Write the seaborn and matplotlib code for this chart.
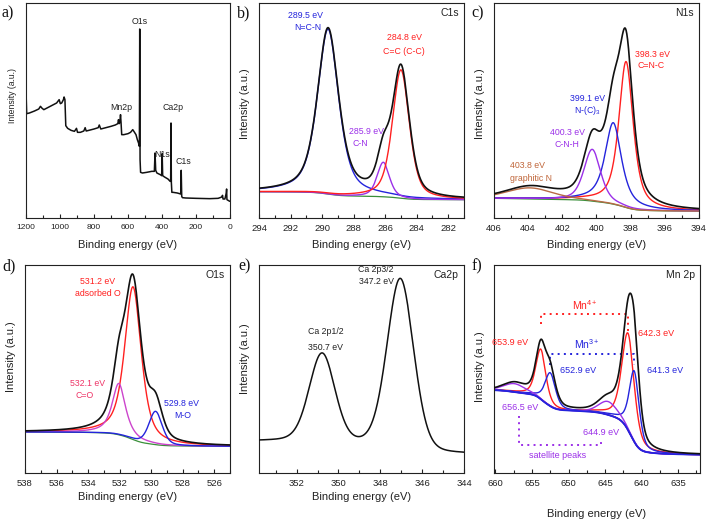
import numpy as np
import pandas as pd
import matplotlib
matplotlib.use("Agg")
import matplotlib.pyplot as plt
import seaborn as sns
from matplotlib.ticker import MultipleLocator

sns.set_theme(style="white")
plt.rcParams['font.family'] = ['Liberation Sans', 'DejaVu Sans']
plt.rcParams['mathtext.fontset'] = 'custom'
plt.rcParams['mathtext.rm'] = 'Liberation Sans'
plt.rcParams['mathtext.it'] = 'Liberation Sans:italic'

# ---------------- data ----------------
# (a) survey spectrum
survey_be = [1199, 1196, 1180, 1150, 1125, 1115, 1105, 1095, 1080, 1050, 1020, 1005, 998, 990, 980, 976,
             971, 966, 955, 935, 915, 903, 897, 880, 860, 852, 846, 830, 800, 775, 769, 760, 730, 700,
             675, 660, 656, 652, 648, 644, 641, 637, 625, 600, 585, 572, 563, 553, 545, 538, 533, 531,
             529, 526, 515, 490, 460, 445, 441, 437, 430, 410, 402, 399, 396, 385, 365, 352, 349, 347,
             345, 342, 335, 310, 290, 287, 284, 280, 260, 200, 120, 70, 48, 44, 41, 30, 22, 20, 18, 8, 1]
survey_int = [365, 313, 315, 321, 327, 335, 329, 325, 329, 337, 345, 355, 343, 345, 355, 363,
              355, 277, 269, 263, 260, 269, 257, 257, 261, 271, 261, 263, 267, 271, 279, 267, 271, 275,
              279, 283, 295, 283, 287, 310, 287, 250, 250, 253, 257, 265, 258, 250, 235, 225, 215, 567,
              175, 137, 135, 137, 140, 140, 195, 143, 135, 130, 127, 193, 127, 123, 117, 110, 110, 285,
              107, 77, 77, 75, 72, 143, 65, 61, 60, 59, 58, 59, 63, 68, 57, 57, 75, 87, 55, 52, 50]
survey_peaks = ["O1s", "Mn2p", "Ca2p", "N1s", "C1s"]
survey_peak_be = [529, 637, 333, 398, 275]
survey_peak_int = [590, 330, 330, 190, 170]

# (b) C1s fit components
c1s_center = [289.62, 286.12, 285.0]
c1s_height = [478, 100, 372]
c1s_fwhm = [1.6, 0.92, 1.27]
c1s_eta = [0.6, 0.5, 0.5]
c1s_bg = [53, 76]          # low-BE side, high-BE side

# (c) N1s fit components
n1s_center = [398.27, 399.02, 400.25, 403.9]
n1s_height = [423, 236, 150, 32]
n1s_fwhm = [1.0, 1.15, 1.15, 3.2]
n1s_eta = [0.7, 0.8, 0.5, 0.3]
n1s_bg = [20, 57]

# (d) O1s fit components
o1s_center = [531.15, 532.05, 529.72]
o1s_height = [458, 154, 100]
o1s_fwhm = [1.25, 1.0, 1.0]
o1s_eta = [0.65, 0.8, 0.4]
o1s_bg = [80, 123]

# (e) Ca2p
ca_center = [350.78, 347.04]
ca_height = [268, 513]
ca_fwhm = [1.45, 1.5]
ca_eta = [0.2, 0.2]
ca_bg = [56, 95]

# (f) Mn2p: Mn4+ (2p1/2, 2p3/2), Mn3+ (2p1/2, 2p3/2), satellites
mn_center = [653.8, 641.85, 652.5, 641.0, 657.4, 644.6]
mn_height = [150, 290, 100, 212, 25, 40]
mn_fwhm = [1.6, 2.0, 1.7, 1.6, 3.5, 3.0]
mn_eta = [0.5, 0.5, 0.5, 0.5, 0.3, 0.3]
mn_bg = [55, 248]

BLUE = "#2424dc"
RED = "#ff2020"
PURPLE = "#9b30e8"
MAGENTA = "#cc44cc"
BROWN = "#b86a45"
GREEN = "#3a8f3a"


def pvoigt(x, c, h, w, eta):
    d = (x - c) / w
    return h * (eta / (1 + 4 * d * d) + (1 - eta) * np.exp(-4 * np.log(2) * d * d))


def fit_curves(x, centers, heights, fwhms, etas, bg):
    comps = [pvoigt(x, c, h, w, e) for c, h, w, e in zip(centers, heights, fwhms, etas)]
    total = np.sum(comps, axis=0)
    cum = np.cumsum(total)
    cum = cum / cum[-1]
    base = bg[0] + (bg[1] - bg[0]) * cum
    return base, comps, total


def line(ax, x, y, color, lw=1.0, z=2):
    sns.lineplot(x=x, y=y, ax=ax, color=color, lw=lw, errorbar=None, zorder=z)


def style(ax, xlim, ylim, major, minor, corner=None, tick_fs=6.8, ylab_fs=8, xlab_y=-0.1, ylab_y=0.53):
    ax.set_xlim(*xlim)
    ax.set_ylim(*ylim)
    ax.xaxis.set_major_locator(MultipleLocator(major))
    ax.xaxis.set_minor_locator(MultipleLocator(minor))
    ax.set_yticks([])
    ax.tick_params(axis='x', which='both', direction='in', bottom=True, top=False,
                   labelsize=tick_fs, pad=4, colors='#222222', width=0.8)
    ax.tick_params(axis='x', which='major', length=3)
    ax.tick_params(axis='x', which='minor', length=2)
    for s in ax.spines.values():
        s.set_color('#222222')
        s.set_linewidth(0.8)
    ax.set_xlabel("Binding energy (eV)", fontsize=8, color='#222222')
    ax.set_ylabel("Intensity (a.u.)", fontsize=ylab_fs, color='#222222')
    ax.xaxis.set_label_coords(0.5, xlab_y)
    ax.yaxis.set_label_coords(-0.045, ylab_y)
    if corner:
        ax.text(0.975, 0.975, corner, transform=ax.transAxes, ha='right', va='top',
                fontsize=7.5, color='#222222')


W, H = 709, 524
fig = plt.figure(figsize=(W / 100, H / 100), dpi=100)


def add_ax(l, t, r, b):
    return fig.add_axes([l / W, 1 - b / H, (r - l) / W, (b - t) / H])


ax_a = add_ax(26, 3, 230, 218)
ax_b = add_ax(259, 3, 464, 218)
ax_c = add_ax(494, 3, 699, 218)
ax_d = add_ax(25, 265, 230, 473)
ax_e = add_ax(259, 265, 464, 473)
ax_f = add_ax(494, 265, 700, 473)

# ---- (a) survey ----
line(ax_a, survey_be, survey_int, "#111111", lw=1.1)
style(ax_a, (1200, 0), (0, 645), 200, 100, tick_fs=6.0, ylab_fs=6.2, ylab_y=0.57)
for lab, e, i in zip(survey_peaks, survey_peak_be, survey_peak_int):
    ax_a.text(e, i, lab, ha='center', va='center', fontsize=6.3, color='#222222')

# ---- (b) C1s ----
xb = np.linspace(281, 294, 1500)
base, comps, total = fit_curves(xb, c1s_center, c1s_height, c1s_fwhm, c1s_eta, c1s_bg)
line(ax_b, xb, base, GREEN, 0.9)
for comp, col in zip(comps, [BLUE, PURPLE, RED]):
    line(ax_b, xb, base + comp, col, 1.0)
line(ax_b, xb, base + total, "#111111", 1.2, z=3)
style(ax_b, (294, 281), (0, 623), 2, 1, corner="C1s")
ax_b.text(291.05, 588, "289.5 eV", color=BLUE, ha='center', va='center', fontsize=6.3)
ax_b.text(290.9, 553, "N=C-N", color=BLUE, ha='center', va='center', fontsize=6.3)
ax_b.text(284.8, 523, "284.8 eV", color=RED, ha='center', va='center', fontsize=6.3)
ax_b.text(284.8, 483, "C=C (C-C)", color=RED, ha='center', va='center', fontsize=6.3)
ax_b.text(287.2, 250, "285.9 eV", color=PURPLE, ha='center', va='center', fontsize=6.3)
ax_b.text(287.55, 216, "C-N", color=PURPLE, ha='center', va='center', fontsize=6.3)

# ---- (c) N1s ----
xc = np.linspace(394, 406, 1500)
base, comps, total = fit_curves(xc, n1s_center, n1s_height, n1s_fwhm, n1s_eta, n1s_bg)
line(ax_c, xc, base, GREEN, 0.9)
for comp, col in zip(comps, [RED, BLUE, PURPLE, BROWN]):
    line(ax_c, xc, base + comp, col, 1.0)
line(ax_c, xc, base + total, "#111111", 1.2, z=3)
style(ax_c, (406, 394), (0, 623), 2, 1, corner="N1s")
ax_c.text(396.75, 475, "398.3 eV", color=RED, ha='center', va='center', fontsize=6.3)
ax_c.text(396.8, 441, "C=N-C", color=RED, ha='center', va='center', fontsize=6.3)
ax_c.text(400.55, 345, "399.1 eV", color=BLUE, ha='center', va='center', fontsize=6.3)
ax_c.text(400.55, 311, "N-(C)$_3$", color=BLUE, ha='center', va='center', fontsize=6.3)
ax_c.text(401.7, 248, "400.3 eV", color=PURPLE, ha='center', va='center', fontsize=6.3)
ax_c.text(401.75, 213, "C-N-H", color=PURPLE, ha='center', va='center', fontsize=6.3)
ax_c.text(404.05, 153, "403.8 eV", color="#c0663a", ha='center', va='center', fontsize=6.3)
ax_c.text(403.85, 115, "graphitic N", color="#c0663a", ha='center', va='center', fontsize=6.3)

# ---- (d) O1s ----
xd = np.linspace(525, 538, 1500)
base, comps, total = fit_curves(xd, o1s_center, o1s_height, o1s_fwhm, o1s_eta, o1s_bg)
line(ax_d, xd, base, GREEN, 0.9)
for comp, col in zip(comps, [RED, MAGENTA, BLUE]):
    line(ax_d, xd, base + comp, col, 1.0)
line(ax_d, xd, base + total, "#111111", 1.2, z=3)
style(ax_d, (538, 525), (0, 624), 2, 1, corner="O1s", xlab_y=-0.09, ylab_y=0.56)
ax_d.text(533.4, 573, "531.2 eV", color=RED, ha='center', va='center', fontsize=6.3)
ax_d.text(533.4, 538, "adsorbed O", color=RED, ha='center', va='center', fontsize=6.3)
ax_d.text(534.05, 268, "532.1 eV", color="#ee3366", ha='center', va='center', fontsize=6.3)
ax_d.text(534.2, 233, "C=O", color="#ee3366", ha='center', va='center', fontsize=6.3)
ax_d.text(528.1, 208, "529.8 eV", color=BLUE, ha='center', va='center', fontsize=6.3)
ax_d.text(528.0, 173, "M-O", color=BLUE, ha='center', va='center', fontsize=6.3)

# ---- (e) Ca2p ----
xe = np.linspace(344, 353.8, 1500)
base, comps, total = fit_curves(xe, ca_center, ca_height, ca_fwhm, ca_eta, ca_bg)
line(ax_e, xe, base + total, "#111111", 1.1, z=3)
style(ax_e, (353.8, 344), (0, 624), 2, 1, corner="Ca2p", xlab_y=-0.09, ylab_y=0.55)
ax_e.text(348.2, 611, "Ca 2p3/2", color='#222222', ha='center', va='center', fontsize=6.3)
ax_e.text(348.2, 573, "347.2 eV", color='#222222', ha='center', va='center', fontsize=6.3)
ax_e.text(350.6, 423, "Ca 2p1/2", color='#222222', ha='center', va='center', fontsize=6.3)
ax_e.text(350.6, 378, "350.7 eV", color='#222222', ha='center', va='center', fontsize=6.3)

# ---- (f) Mn2p ----
xf = np.linspace(632, 660.2, 2000)
base, comps, total = fit_curves(xf, mn_center, mn_height, mn_fwhm, mn_eta, mn_bg)
for comp, col in zip(comps, [RED, RED, BLUE, BLUE, PURPLE, PURPLE]):
    line(ax_f, xf, base + comp, col, 1.0)
line(ax_f, xf, base, BLUE, 1.3)
line(ax_f, xf, base + total, "#111111", 1.2, z=3)
style(ax_f, (660.2, 632), (0, 623), 5, 2.5, corner="Mn 2p", xlab_y=-0.175, ylab_y=0.51)
dot = dict(ls=(0, (1, 2.2)), lw=1.4)
ax_f.plot([mn_center[0], mn_center[0], mn_center[1], mn_center[1]], [447, 477, 477, 412], color=RED, **dot)
ax_f.plot([mn_center[2], mn_center[2], mn_center[3], mn_center[3]], [322, 357, 357, 322], color=BLUE, **dot)
ax_f.plot([656.8, 656.8, 645.6, 645.6], [172, 84, 84, 102], color=PURPLE, **dot)
ax_f.text(647.7, 502, "Mn$^{4+}$", color=RED, ha='center', va='center', fontsize=7.5)
ax_f.text(647.5, 387, "Mn$^{3+}$", color=BLUE, ha='center', va='center', fontsize=7.5)
ax_f.text(658.0, 392, "653.9 eV", color=RED, ha='center', va='center', fontsize=6.5)
ax_f.text(638.0, 417, "642.3 eV", color=RED, ha='center', va='center', fontsize=6.5)
ax_f.text(648.7, 307, "652.9 eV", color=BLUE, ha='center', va='center', fontsize=6.5)
ax_f.text(636.8, 307, "641.3 eV", color=BLUE, ha='center', va='center', fontsize=6.5)
ax_f.text(656.6, 195, "656.5 eV", color=PURPLE, ha='center', va='center', fontsize=6.5)
ax_f.text(645.6, 122, "644.9 eV", color=PURPLE, ha='center', va='center', fontsize=6.5)
ax_f.text(651.5, 52, "satellite peaks", color=PURPLE, ha='center', va='center', fontsize=6.5)

# panel letters
for lab, xp, yp in [("a)", 2, 13), ("b)", 237, 13), ("c)", 471, 13),
                    ("d)", 2, 266), ("e)", 238, 266), ("f)", 472, 266)]:
    fig.text(xp / W, 1 - yp / H, lab, ha='left', va='center', fontsize=11.5,
             family='Liberation Serif', color='#111111')

fig.savefig("out.png", dpi=100)
